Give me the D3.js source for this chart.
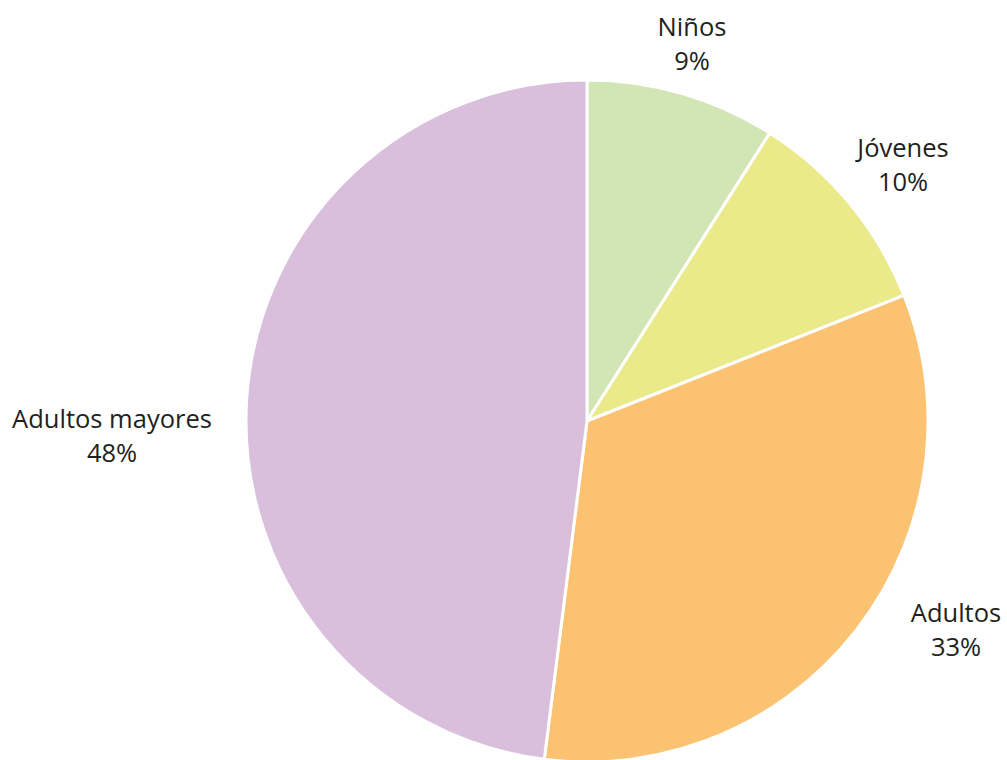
<!DOCTYPE html>
<html><head><meta charset="utf-8">
<script src="https://cdn.jsdelivr.net/npm/d3@7"></script>
<style>html,body{margin:0;padding:0;background:#fff;}svg{display:block;}</style>
</head><body>
<svg id="chart" width="1007" height="760"></svg>
<script>
const categories = ["Niños", "Jóvenes", "Adultos", "Adultos mayores"];
const values = [9, 10, 33, 48];
const valueLabels = ["9%", "10%", "33%", "48%"];
const colors = ["#d1e5b5", "#ebea8b", "#fbc272", "#d9bfdc"];

const svg = d3.select("#chart");
const cx = 587, cy = 421, R = 341;
const g = svg.append("g").attr("transform", `translate(${cx},${cy})`);

const data = categories.map((c, i) => ({ cat: c, value: values[i], label: valueLabels[i], color: colors[i] }));
const pie = d3.pie().value(d => d.value).sort(null);
const arc = d3.arc().innerRadius(0).outerRadius(R);
const arcs = pie(data);

g.selectAll("path").data(arcs).join("path")
  .attr("d", arc)
  .attr("fill", d => d.data.color)
  .attr("stroke", "#ffffff")
  .attr("stroke-width", 3)
  .attr("stroke-linejoin", "round");

// label anchor offsets (relative to pie centre) per slice
const labelLayout = [
  { dx: 105, dy: -385 },
  { dx: 316, dy: -264 },
  { dx: 369, dy: 201 },
  { dx: -475, dy: 7 }
];
const fontSize = 25.5;
const lbl = g.selectAll("text.lbl").data(arcs).join("text")
  .attr("class", "lbl")
  .attr("text-anchor", "middle")
  .attr("font-family", "'Open Sans', 'Noto Sans', sans-serif")
  .attr("font-size", fontSize)
  .attr("fill", "#231f20")
  .attr("transform", (d, i) => `translate(${labelLayout[i].dx},${labelLayout[i].dy})`);
lbl.append("tspan").attr("x", 0).attr("y", 0).text(d => d.data.cat);
lbl.append("tspan").attr("x", 0).attr("y", 34).text(d => d.data.label);
</script>
</body></html>
